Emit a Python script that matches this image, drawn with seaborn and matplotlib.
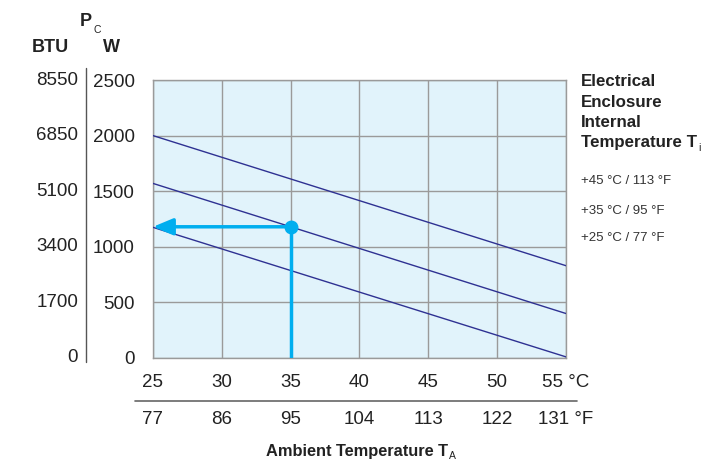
import numpy as np
import pandas as pd
import matplotlib.pyplot as plt
import seaborn as sns
from matplotlib.lines import Line2D

sns.set_style("white")
plt.rcParams['font.family'] = ['Liberation Sans', 'DejaVu Sans']

# ---------------------------------------------------------------
# data
# ---------------------------------------------------------------
temp_c = [25, 30, 35, 40, 45, 50, 55]
temp_f = [77, 86, 95, 104, 113, 122, 131]
power_w = [0, 500, 1000, 1500, 2000, 2500]
power_btu = [0, 1700, 3400, 5100, 6850, 8550]

line_labels = ['+45 °C / 113 °F', '+35 °C / 95 °F', '+25 °C / 77 °F']
line_x = [25, 55]
line_45 = [2000, 830]
line_35 = [1570, 400]
line_25 = [1175, 10]

example_temp = 35
example_power = 1180

df = pd.DataFrame({
    'temp': line_x * 3,
    'power': line_45 + line_35 + line_25,
    'internal': [l for l in line_labels for _ in line_x],
})

navy = '#2E3192'
cyan = '#00AEEF'
grid_col = '#9A9A9A'
txt = '#222222'
fs = 13.5

fig = plt.figure(figsize=(7.26, 4.61), dpi=100)
ax = fig.add_axes([153 / 726, 1 - 358 / 461, 413 / 726, 278 / 461])
ax.set_facecolor('#E1F3FB')

sns.lineplot(data=df, x='temp', y='power', hue='internal',
             palette=[navy] * 3, legend=False, linewidth=1.0, ax=ax, zorder=3)

ax.set_xlim(25, 55)
ax.set_ylim(0, 2500)
ax.set_xticks(temp_c)
ax.set_yticks(power_w)
ax.grid(True, color=grid_col, linewidth=1.0)
for s in ax.spines.values():
    s.set_color(grid_col)
    s.set_linewidth(1.0)
ax.set_xlabel('')
ax.set_ylabel('')

# x tick labels (°C)
xlabs = [str(t) for t in temp_c]
xlabs[-1] = xlabs[-1] + ' °C'
ax.set_xticklabels(xlabs, fontsize=fs, color=txt)
ax.tick_params(axis='x', length=0, pad=11.5)
# y tick labels (W)
ax.set_yticklabels([str(p) for p in power_w], fontsize=fs, color=txt)
ax.tick_params(axis='y', length=0, pad=13)

# BTU column
for p, b in zip(power_w, power_btu):
    ax.annotate(str(b), xy=(0, p), xycoords=('axes fraction', 'data'),
                xytext=(-75, 0), textcoords='offset pixels',
                ha='right', va='center', fontsize=fs, color=txt)

# °F row
flabs = [str(t) for t in temp_f]
flabs[-1] = flabs[-1] + ' °F'
for c, f in zip(temp_c, flabs):
    ax.annotate(f, xy=(c, 0), xycoords=('data', 'axes fraction'),
                xytext=(0, -62), textcoords='offset pixels',
                ha='center', va='center', fontsize=fs, color=txt)

# example reading
ax.plot([example_temp, example_temp], [0, example_power], color=cyan,
        linewidth=2.5, zorder=4, solid_capstyle='butt')
ax.annotate('', xy=(temp_c[0], example_power), xytext=(example_temp, example_power),
            arrowprops=dict(arrowstyle='-|>,head_length=1.2,head_width=0.5',
                            color=cyan, linewidth=2.5, shrinkA=0, shrinkB=0),
            zorder=4, annotation_clip=False)
ax.plot([example_temp], [example_power], 'o', color=cyan, markersize=9, zorder=5)

# separators
fig.add_artist(Line2D([86 / 726, 86 / 726], [1 - 68 / 461, 1 - 362 / 461],
                      color='#555555', linewidth=1.0))
fig.add_artist(Line2D([135 / 726, 577 / 726], [1 - 401 / 461, 1 - 401 / 461],
                      color='#666666', linewidth=1.2))


def with_sub(x, y, main, sub, size, sub_size, dy=-4, **kw):
    t = fig.text(x, y, main, fontsize=size, fontweight='bold', color=txt, **kw)
    ax.annotate(sub, xy=(1, 0), xycoords=t, xytext=(1, dy),
                textcoords='offset pixels', ha='left', va='center',
                fontsize=sub_size, color=txt, annotation_clip=False)
    return t


# headers
fig.text(50 / 726, 1 - 48 / 461, 'BTU', ha='center', va='center',
         fontsize=13, fontweight='bold', color=txt)
fig.text(111 / 726, 1 - 48 / 461, 'W', ha='center', va='center',
         fontsize=13, fontweight='bold', color=txt)
with_sub(86 / 726, 1 - 26 / 461, 'P', 'C', 13, 7.5, dy=0,
         ha='center', va='baseline')

with_sub(357 / 726, 1 - 456 / 461, 'Ambient Temperature T', 'A', 11.8, 7.5,
         dy=3, ha='center', va='baseline')

right_head = ['Electrical', 'Enclosure', 'Internal']
for lab, y in zip(right_head, [86, 107, 127]):
    fig.text(581 / 726, 1 - y / 461, lab, ha='left', va='baseline',
             fontsize=12.2, fontweight='bold', color=txt)
with_sub(581 / 726, 1 - 147 / 461, 'Temperature T', 'i', 12.2, 7.5,
         dy=2, ha='left', va='baseline')

for lab, y in zip(line_labels, [181, 211, 238]):
    fig.text(581 / 726, 1 - y / 461, lab, ha='left', va='center',
             fontsize=9.5, color='#333333')

fig.savefig('out.png', dpi=100)
